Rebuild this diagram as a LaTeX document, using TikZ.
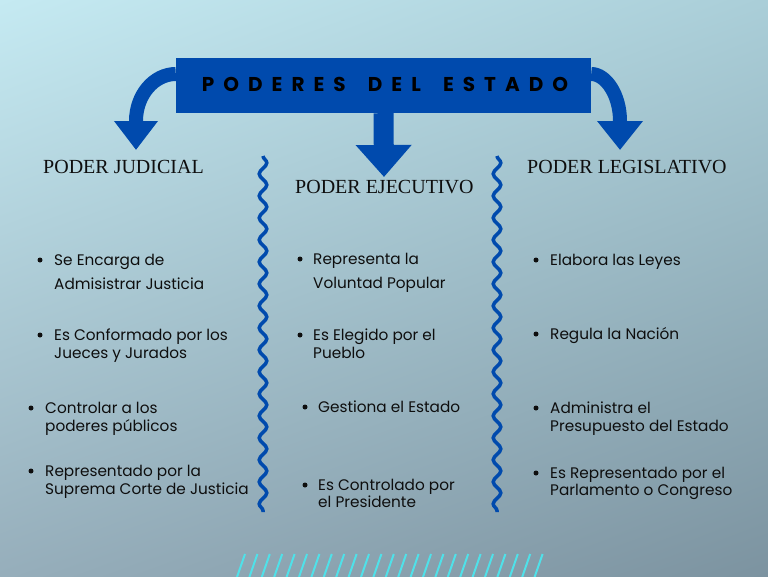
\documentclass[tikz,border=0pt]{standalone}
\usepackage{fontspec}
\setmainfont{Poppins}
\newfontfamily\headfont{Liberation Serif}
\newfontfamily\titlefont[LetterSpace=45]{Poppins}
\usetikzlibrary{arrows.meta,decorations.pathmorphing,shadings}
\definecolor{bgA}{RGB}{197,234,242}
\definecolor{bgB}{RGB}{170,206,216}
\definecolor{bgC}{RGB}{150,174,187}
\definecolor{bgD}{RGB}{124,147,160}
\definecolor{royal}{HTML}{004AAD}
\definecolor{ink}{HTML}{0E0E0E}
\definecolor{cyanline}{HTML}{4FE1E9}
\tikzset{
  heading/.style={anchor=base west, inner sep=0pt, text=ink, font=\headfont\fontsize{20}{24}\selectfont},
  item/.style={anchor=base west, inner sep=0pt, text=ink, font=\fontsize{15.3}{18}\selectfont},
  dot/.style={fill=ink, circle, inner sep=0pt, minimum size=5pt},
  wave/.style={draw=royal, line width=3.5pt, decorate, decoration={snake, segment length=22pt, amplitude=3.8pt}},
  bigarrow/.style={draw=royal, line width=14pt},
  slash/.style={draw=cyanline, line width=2pt}
}
\begin{document}
\begin{tikzpicture}[x=1pt,y=-1pt]
\useasboundingbox (0,0) rectangle (768,576);
\shade[upper left=bgA, upper right=bgB, lower left=bgC, lower right=bgD] (0,0) rectangle (768,576);

% title
\node[fill=royal, minimum width=415pt, minimum height=55pt, inner sep=0pt] (title) at (383.5,85.5) {};
\node[text=black, font=\titlefont\bfseries\fontsize{20}{24}\selectfont, inner sep=0pt, anchor=base] (titletext) at (385,91) {PODERES\hspace{9pt} DEL\hspace{9pt} ESTADO};

% arrows
\coordinate (tipL) at (136,150);
\coordinate (tipM) at (384,177);
\coordinate (tipR) at (620,150);
\draw[bigarrow, -{Triangle[width=42pt,length=29pt]}] ([yshift=11.5pt]title.west) .. controls (154,74) and (136,95) .. (136,121) -- (tipL);
\draw[bigarrow, line width=20pt, -{Triangle[width=54pt,length=32pt]}] (title.south) -- (tipM);
\draw[bigarrow, -{Triangle[width=44pt,length=29pt]}] ([yshift=11.5pt]title.east) .. controls (606,74) and (620,95) .. (620,121) -- (tipR);

% wavy separators
\coordinate (w1a) at (263,156); \coordinate (w1b) at (263,512);
\coordinate (w2a) at (497,156); \coordinate (w2b) at (497,512);
\draw[wave] (w1a) -- (w1b);
\draw[wave] (w2a) -- (w2b);

% headings
\node[heading] (hj) at (43,173) {PODER JUDICIAL};
\node[heading] (he) at (295,193) {PODER EJECUTIVO};
\node[heading] (hl) at (527,173) {PODER LEGISLATIVO};

% left column
\node[dot] (b1) at (40,260) {};
\node[item] (j1a) at (54,265) {Se Encarga de};
\node[item] (j1b) at (54,289) {Admisistrar Justicia};
\node[dot] (b2) at (40,335) {};
\node[item] (j2a) at (54,340) {Es Conformado por los};
\node[item] (j2b) at (54,358) {Jueces y Jurados};
\node[dot] (b3) at (31,408) {};
\node[item] (j3a) at (45,413) {Controlar a los};
\node[item] (j3b) at (45,431) {poderes públicos};
\node[dot] (b4) at (31,471) {};
\node[item] (j4a) at (45,476) {Representado por la};
\node[item] (j4b) at (45,494) {Suprema Corte de Justicia};

% middle column
\node[dot] (b5) at (300,259) {};
\node[item] (e1a) at (313,264) {Representa la};
\node[item] (e1b) at (313,288) {Voluntad Popular};
\node[dot] (b6) at (300,335) {};
\node[item] (e2a) at (313,340) {Es Elegido por el};
\node[item] (e2b) at (313,358) {Pueblo};
\node[dot] (b7) at (305,407) {};
\node[item] (e3a) at (318,412) {Gestiona el Estado};
\node[dot] (b8) at (305,485) {};
\node[item] (e4a) at (318,490) {Es Controlado por};
\node[item] (e4b) at (318,507) {el Presidente};

% right column
\node[dot] (b9) at (536,260) {};
\node[item] (l1a) at (550,265) {Elabora las Leyes};
\node[dot] (b10) at (536,334) {};
\node[item] (l2a) at (550,339) {Regula la Nación};
\node[dot] (b11) at (536,408) {};
\node[item] (l3a) at (550,413) {Administra el};
\node[item] (l3b) at (550,431) {Presupuesto del Estado};
\node[dot] (b12) at (536,473) {};
\node[item] (l4a) at (550,478) {Es Representado por el};
\node[item] (l4b) at (550,495) {Parlamento o Congreso};

% slashes
\foreach \i in {0,...,24} {
  \draw[slash] ({245+12.4*\i},554) -- ({237+12.4*\i},577);
}
\end{tikzpicture}
\end{document}
